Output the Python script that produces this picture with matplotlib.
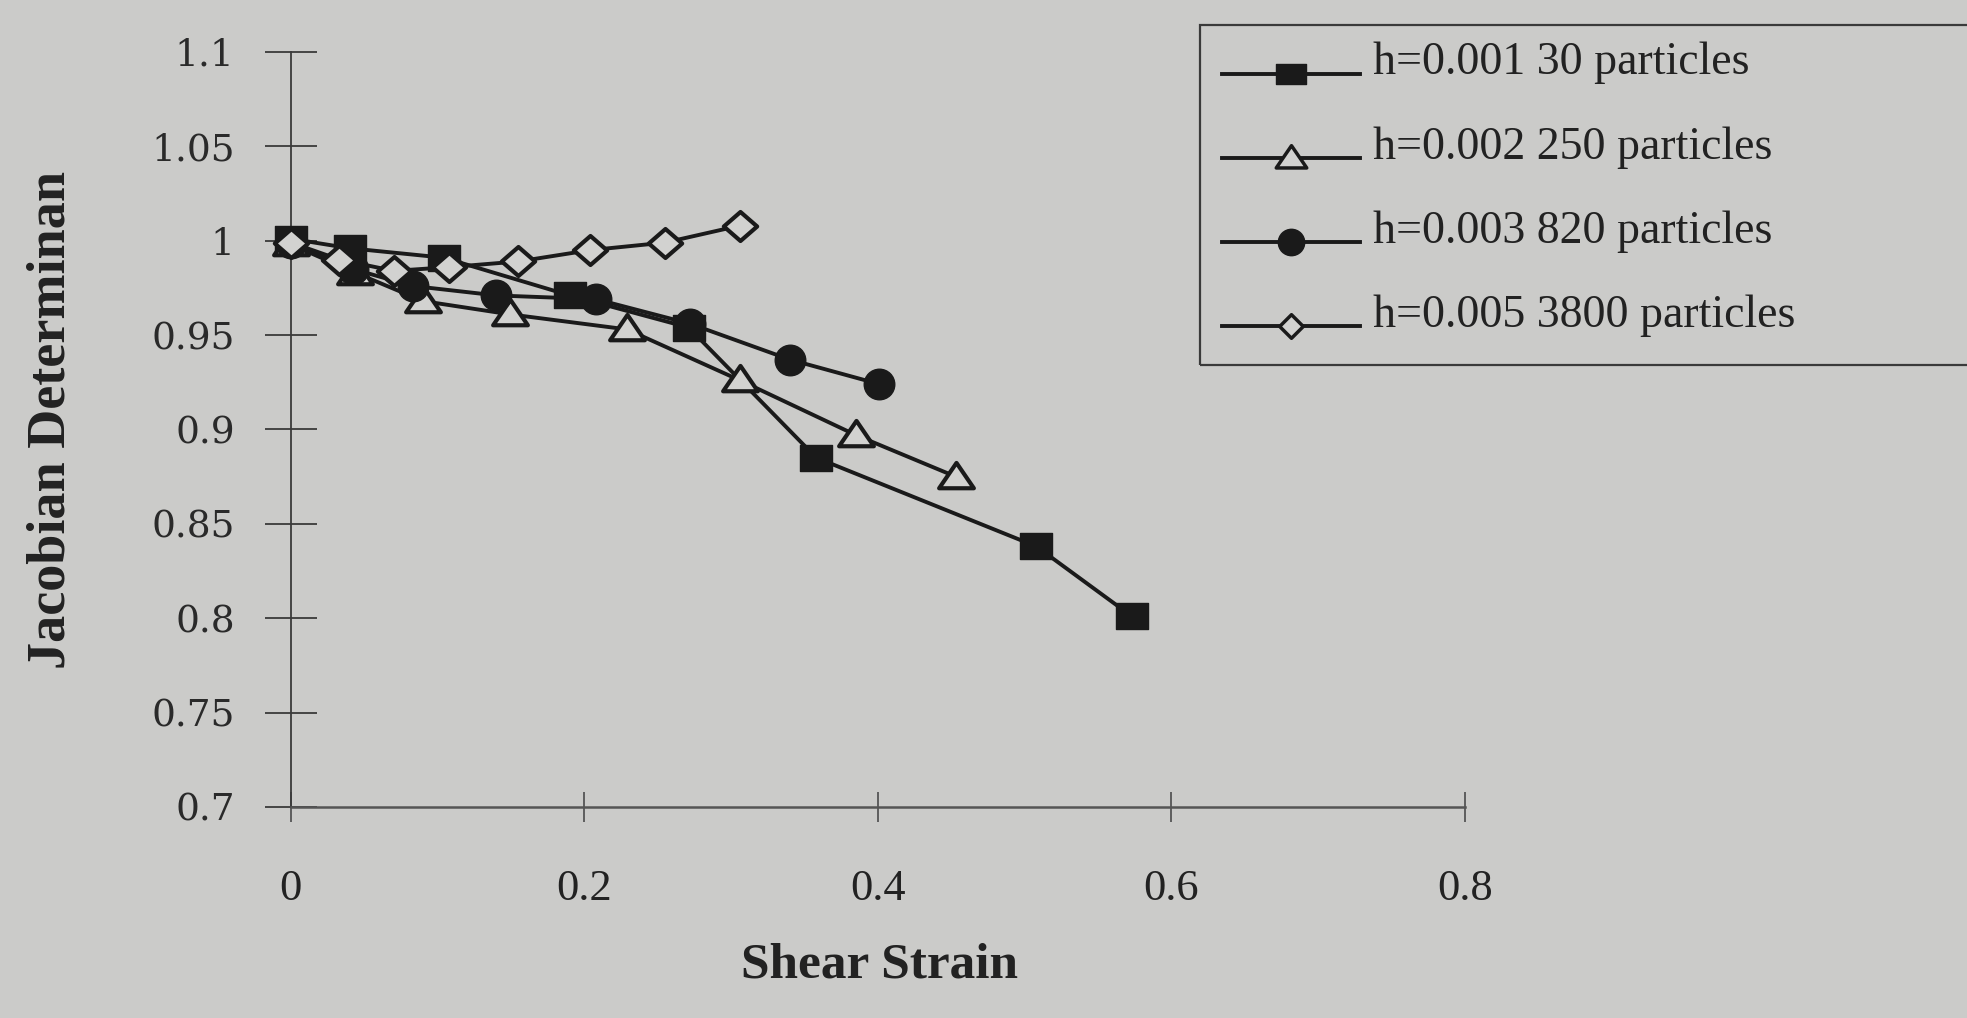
import matplotlib
matplotlib.use('Agg')
import numpy as np
import matplotlib.pyplot as plt
from matplotlib.path import Path
from matplotlib.lines import Line2D
from matplotlib.patches import Rectangle
from matplotlib.legend_handler import HandlerLine2D

# values
x_h001 = [0.0, 0.040, 0.104, 0.190, 0.271, 0.358, 0.508, 0.573]
y_h001 = [1.001, 0.996, 0.991, 0.971, 0.954, 0.885, 0.838, 0.801]

x_h002 = [0.0, 0.044, 0.090, 0.149, 0.229, 0.306, 0.385, 0.453]
y_h002 = [0.998, 0.983, 0.968, 0.961, 0.953, 0.926, 0.897, 0.875]

x_h003 = [0.0, 0.042, 0.083, 0.140, 0.208, 0.272, 0.340, 0.401]
y_h003 = [0.999, 0.985, 0.976, 0.971, 0.969, 0.956, 0.937, 0.924]

x_h005 = [0.0, 0.033, 0.070, 0.108, 0.155, 0.204, 0.255, 0.306]
y_h005 = [0.999, 0.990, 0.984, 0.986, 0.989, 0.995, 0.999, 1.008]

labels = ['h=0.001 30 particles', 'h=0.002 250 particles',
          'h=0.003 820 particles', 'h=0.005 3800 particles']

xticks = [0, 0.2, 0.4, 0.6, 0.8]
xtick_labels = ['0', '0.2', '0.4', '0.6', '0.8']
yticks = [0.7, 0.75, 0.8, 0.85, 0.9, 0.95, 1.0, 1.05, 1.1]
ytick_labels = ['0.7', '0.75', '0.8', '0.85', '0.9', '0.95', '1', '1.05', '1.1']

# colours / styles
bg = '#cbcbc9'
ink = '#1a1a1a'
open_fill = '#d2d2d0'
LW = 2.8

# marker shapes (the scan is a bit squashed vertically)
sq = Path([(-1, -0.82), (1, -0.82), (1, 0.82), (-1, 0.82), (0, 0)], closed=True)
sq_leg = Path([(-1, -0.65), (1, -0.65), (1, 0.65), (-1, 0.65), (0, 0)], closed=True)
tri = Path([(-1, -0.62), (1, -0.62), (0, 0.84), (0, 0)], closed=True)
dia = Path([(0, 0.87), (1, 0), (0, -0.87), (-1, 0), (0, 0)], closed=True)
dia_leg = Path([(0, 1), (1, 0), (0, -1), (-1, 0), (0, 0)], closed=True)


class LowHandler(HandlerLine2D):
    # legend line sits on the text baseline in the scan
    def create_artists(self, legend, orig_handle, xdescent, ydescent,
                       width, height, fontsize, trans):
        arts = super().create_artists(legend, orig_handle, xdescent, ydescent,
                                      width, height, fontsize, trans)
        for a in arts:
            a.set_ydata(np.asarray(a.get_ydata()) - 0.33 * fontsize)
        return arts


fig = plt.figure(figsize=(19.67, 10.18), dpi=100, facecolor=bg)
ax = fig.add_axes([0.1479, 0.2073, 0.5969, 0.7417])
ax.set_facecolor(bg)

ax.plot(x_h001, y_h001, color=ink, lw=LW, marker=sq, ms=23, mfc=ink, mec=ink,
        mew=1, clip_on=False, zorder=3)
ax.plot(x_h002, y_h002, color=ink, lw=LW, marker=tri, ms=25, mfc=open_fill, mec=ink,
        mew=3, clip_on=False, zorder=4)
ax.plot(x_h003, y_h003, color=ink, lw=LW, marker='o', ms=22, mfc=ink, mec=ink,
        mew=1, clip_on=False, zorder=5)
ax.plot(x_h005, y_h005, color=ink, lw=LW, marker=dia, ms=24, mfc=open_fill, mec=ink,
        mew=3, clip_on=False, zorder=6)

ax.set_xlim(0, 0.8)
ax.set_ylim(0.7, 1.1)
ax.spines['top'].set_visible(False)
ax.spines['right'].set_visible(False)
ax.spines['left'].set_color('#3a3a3a')
ax.spines['left'].set_linewidth(1.3)
ax.spines['bottom'].set_color('#555555')
ax.spines['bottom'].set_linewidth(1.8)

ax.set_xticks(xticks)
ax.set_xticklabels(xtick_labels, family='Liberation Serif', fontsize=32, color='#222222')
ax.set_yticks(yticks)
ax.set_yticklabels(ytick_labels, family='DejaVu Serif', fontsize=27, color='#2a2a2a')
ax.tick_params(axis='y', direction='inout', length=37, width=1.3, color='#3a3a3a', pad=22)
ax.tick_params(axis='x', direction='inout', length=22, width=1.3, color='#555555', pad=34)

ax.set_ylabel('Jacobian Determinan', family='Liberation Serif', fontweight='bold',
              fontsize=39, color='#222222')
ax.yaxis.set_label_coords(-0.2036, 0.513)
ax.yaxis.label.set_verticalalignment('center')

ax.set_xlabel('Shear Strain', family='Liberation Serif', fontweight='bold',
              fontsize=37, color='#222222')
ax.xaxis.set_label_coords(0.5017, -0.2106)
ax.xaxis.label.set_verticalalignment('center')

# legend (frame drawn separately, it runs off the right edge in the scan)
handles = [
    Line2D([], [], color=ink, lw=LW, marker=sq_leg, ms=22, mfc=ink, mec=ink),
    Line2D([], [], color=ink, lw=LW, marker=tri, ms=22, mfc=open_fill, mec=ink, mew=2.5),
    Line2D([], [], color=ink, lw=LW, marker='o', ms=19, mfc=ink, mec=ink),
    Line2D([], [], color=ink, lw=LW, marker=dia_leg, ms=17, mfc=open_fill, mec=ink, mew=2.5),
]
fig.legend(handles, labels, loc='upper left', bbox_to_anchor=(1222 / 1967, 1 - 42 / 1018),
           frameon=False, prop={'family': 'Liberation Serif', 'size': 33},
           handlelength=3.0, handletextpad=0.3, labelspacing=0.91, borderpad=0,
           borderaxespad=0, labelcolor='#222222',
           handler_map={Line2D: LowHandler()})
fig.add_artist(Rectangle((1200 / 1967, 1 - 365 / 1018), 0.5, 340 / 1018,
                         transform=fig.transFigure, fill=False, ec='#3a3a3a', lw=1.6))

fig.savefig('out.png', dpi=100, facecolor=bg)
